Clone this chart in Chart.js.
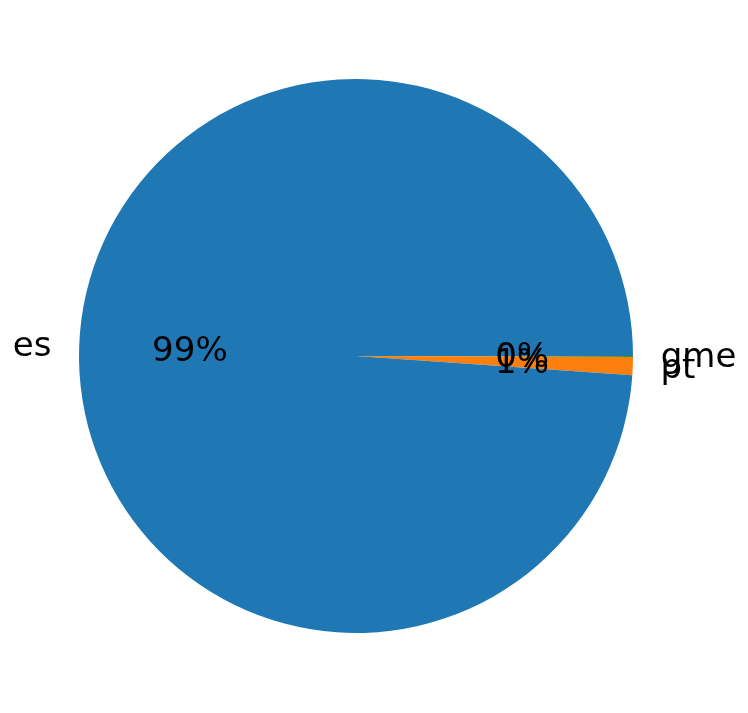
<!DOCTYPE html>
<html>
<head>
<meta charset="utf-8">
<script src="https://cdn.jsdelivr.net/npm/chart.js@4/dist/chart.umd.min.js"></script>
<style>
  html, body { margin: 0; padding: 0; background: #fff; }
  #wrap { width: 748px; height: 713px; }
</style>
</head>
<body>
<div id="wrap"><canvas id="pieChart" width="748" height="713"></canvas></div>
<script>
// Data (in matplotlib order, counter-clockwise from 3 o'clock)
const categories = ['es', 'pt', 'gme'];
const shares = [98.9, 1.04, 0.06];
const colors = ['#1f77b4', '#ff7f0e', '#2ca02c'];

// Chart.js draws clockwise, so reverse to get the same look
const labels = categories.slice().reverse();
const values = shares.slice().reverse();
const fills = colors.slice().reverse();

const total = values.reduce((a, b) => a + b, 0);
const fontSpec = '34px "DejaVu Sans", sans-serif';

// Slice labels at 1.1r and percentages at 0.6r, like matplotlib
const sliceText = {
    id: 'sliceText',
    afterDraw(chart) {
        const ctx = chart.ctx;
        const meta = chart.getDatasetMeta(0);
        ctx.save();
        ctx.font = fontSpec;
        ctx.fillStyle = '#000';
        ctx.textBaseline = 'middle';
        meta.data.forEach((arc, i) => {
            const p = arc.getProps(['x', 'y', 'startAngle', 'endAngle', 'outerRadius'], true);
            const mid = (p.startAngle + p.endAngle) / 2;
            const cx = Math.cos(mid), cy = Math.sin(mid);

            const lx = p.x + cx * p.outerRadius * 1.1;
            const ly = p.y + cy * p.outerRadius * 1.1 + 2;
            ctx.textAlign = cx >= 0 ? 'left' : 'right';
            ctx.fillText(labels[i], lx, ly);

            const px = p.x + cx * p.outerRadius * 0.6;
            const py = p.y + cy * p.outerRadius * 0.6 + 2;
            ctx.textAlign = 'center';
            ctx.fillText(Math.round(values[i] / total * 100) + '%', px, py);
        });
        ctx.restore();
    }
};

const pieChartCtx = document.getElementById('pieChart').getContext('2d');
new Chart(pieChartCtx, {
    type: 'pie',
    data: {
        labels: labels,
        datasets: [{
            data: values,
            backgroundColor: fills,
            borderWidth: 0,
            hoverOffset: 0
        }]
    },
    options: {
        responsive: false,
        animation: false,
        rotation: 90,
        layout: { padding: { left: 79, right: 115, top: 79, bottom: 80 } },
        plugins: {
            legend: { display: false },
            tooltip: { enabled: false }
        }
    },
    plugins: [sliceText]
});
</script>
</body>
</html>
